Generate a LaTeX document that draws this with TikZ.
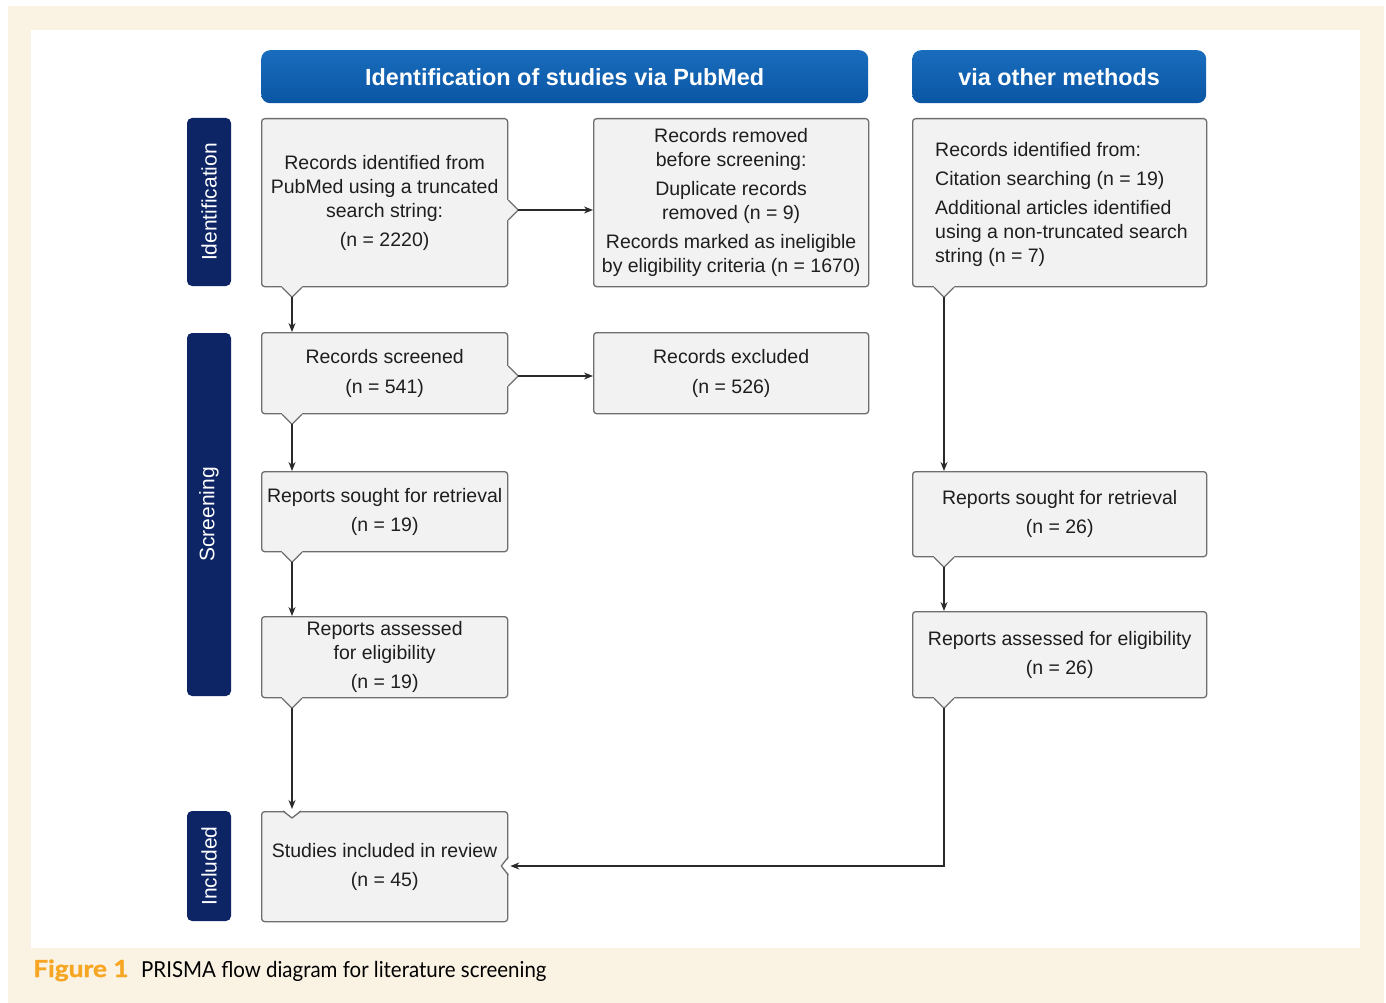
\documentclass[tikz,border=0pt]{standalone}
\usepackage{fontspec}
\setmainfont{Liberation Sans}
\newfontfamily\capfont{Lato}
\newfontfamily\capboldfont[FakeBold=1.2]{Lato}
\usetikzlibrary{calc,arrows.meta}

\definecolor{cream}{HTML}{FAF3E3}
\definecolor{hdrtop}{HTML}{1A6CBD}
\definecolor{hdrbot}{HTML}{0A56A4}
\definecolor{navy}{HTML}{0D2465}
\definecolor{boxfill}{HTML}{F2F2F3}
\definecolor{boxline}{HTML}{6E6E6E}
\definecolor{arrowcol}{HTML}{2A2A2A}
\definecolor{txt}{HTML}{1E1E1E}
\definecolor{figorange}{HTML}{F6A623}

\newcommand\bxfont{\fontsize{19.5}{24}\selectfont}
\newcommand\hdfont{\fontsize{23.4}{26}\selectfont\bfseries}
\newcommand\sdfont{\fontsize{21}{24}\selectfont}

% outward notch on a bottom edge (#1 = point on the edge)
\newcommand\notchdown[1]{%
  \fill[boxfill] ($(#1)+(-10,-1.6)$) -- ($(#1)+(10,-1.6)$) -- ($(#1)+(10,0)$)
     -- ($(#1)+(0,10)$) -- ($(#1)+(-10,0)$) -- cycle;
  \draw[notchline] ($(#1)+(-10,0)$) -- ($(#1)+(0,10)$) -- ($(#1)+(10,0)$);}
% outward notch on a right edge
\newcommand\notchright[1]{%
  \fill[boxfill] ($(#1)+(-1.6,-10)$) -- ($(#1)+(-1.6,10)$) -- ($(#1)+(0,10)$)
     -- ($(#1)+(10,0)$) -- ($(#1)+(0,-10)$) -- cycle;
  \draw[notchline] ($(#1)+(0,-10)$) -- ($(#1)+(10,0)$) -- ($(#1)+(0,10)$);}
% inward notch on a top edge
\newcommand\dentdown[1]{%
  \fill[white] ($(#1)+(-9,-1.6)$) -- ($(#1)+(9,-1.6)$) -- ($(#1)+(0,7)$) -- cycle;
  \draw[notchline] ($(#1)+(-9,0)$) -- ($(#1)+(0,7)$) -- ($(#1)+(9,0)$);}
% inward notch on a right edge
\newcommand\dentleft[1]{%
  \fill[white] ($(#1)+(1.6,-9)$) -- ($(#1)+(1.6,9)$) -- ($(#1)+(-7,0)$) -- cycle;
  \draw[notchline] ($(#1)+(0,-9)$) -- ($(#1)+(-7,0)$) -- ($(#1)+(0,9)$);}

\begin{document}
\begin{tikzpicture}[x=1pt,y=-1pt,
  box/.style={draw=boxline, line width=1.3pt, fill=boxfill, rounded corners=3pt,
    anchor=north west, inner sep=0pt, align=center, font=\bxfont, text=txt},
  header/.style={rounded corners=9pt, top color=hdrtop, bottom color=hdrbot,
    draw=none, anchor=north west, inner sep=0pt, font=\hdfont, text=white},
  side/.style={fill=navy, rounded corners=5pt, inner sep=0pt, rotate=90,
    minimum height=44pt, font=\sdfont, text=white},
  notchline/.style={draw=boxline, line width=1.3pt, line join=round},
  arr/.style={draw=arrowcol, line width=1.4pt,
    -{Stealth[length=9pt,width=7pt]}}]

\useasboundingbox (0,0) rectangle (1386,1003);
\fill[white] (0,0) rectangle (1386,1003);
\fill[cream] (8,6) rectangle (1384,1003);
\fill[white] (31,30) rectangle (1360,948);

% column headers
\node[header, minimum width=607pt, minimum height=53pt] (h1) at (261,50)
  {Identification of studies via PubMed};
\node[header, minimum width=294pt, minimum height=53pt] (h2) at (912,50)
  {via other methods};

% phase labels
\node[side, minimum width=168pt] (sid) at (209,202) {Identification};
\node[side, minimum width=363pt] (ssc) at (209,514.5) {Screening};
\node[side, minimum width=110pt] (sin) at (209,866) {Included};

% PubMed column
\node[box, minimum width=246pt, minimum height=168pt] (A) at (261,118)
  {Records identified from\\PubMed using a truncated\\search string:\\[5pt](n = 2220)};
\node[box, minimum width=275pt, minimum height=168pt] (B) at (593,118)
  {Records removed\\before screening:\\[5pt]Duplicate records\\removed (n = 9)\\[5pt]%
   Records marked as ineligible\\by eligibility criteria (n = 1670)};
\node[box, minimum width=246pt, minimum height=81pt] (D) at (261,332)
  {Records screened\\[6pt](n = 541)};
\node[box, minimum width=275pt, minimum height=81pt] (E) at (593,332)
  {Records excluded\\[6pt](n = 526)};
\node[box, minimum width=246pt, minimum height=80pt] (F) at (261,471)
  {Reports sought for retrieval\\[5pt](n = 19)};
\node[box, minimum width=246pt, minimum height=81pt] (G) at (261,616)
  {Reports assessed\\for eligibility\\[5pt](n = 19)};
\node[box, minimum width=246pt, minimum height=110pt] (H) at (261,811)
  {Studies included in review\\[5pt](n = 45)};

% other methods column
\node[box, minimum width=294pt, minimum height=168pt] (C) at (912,118) {};
\node[anchor=north west, align=left, font=\bxfont, text=txt, inner sep=0pt] (Ct) at (935,142)
  {Records identified from:\\[5pt]Citation searching (n = 19)\\[5pt]%
   Additional articles identified\\using a non-truncated search\\string (n = 7)};
\node[box, minimum width=294pt, minimum height=85pt] (I) at (912,471)
  {Reports sought for retrieval\\[5pt](n = 26)};
\node[box, minimum width=294pt, minimum height=86pt] (J) at (912,611)
  {Reports assessed for eligibility\\[5pt](n = 26)};

% notches where connectors leave or enter
\coordinate (Ab) at ($(A.south west)+(31,0)$);
\coordinate (Ar) at ($(A.north east)+(0,92)$);
\coordinate (Db) at ($(D.south west)+(31,0)$);
\coordinate (Dr) at ($(D.north east)+(0,44)$);
\coordinate (Fb) at ($(F.south west)+(31,0)$);
\coordinate (Gb) at ($(G.south west)+(31,0)$);
\coordinate (Ht) at ($(H.north west)+(31,0)$);
\coordinate (Hr) at ($(H.north east)+(0,55)$);
\coordinate (Cb) at ($(C.south west)+(32,0)$);
\coordinate (Ib) at ($(I.south west)+(32,0)$);
\coordinate (Jb) at ($(J.south west)+(32,0)$);

\notchdown{Ab}\notchright{Ar}\notchdown{Db}\notchright{Dr}
\notchdown{Fb}\notchdown{Gb}\notchdown{Cb}\notchdown{Ib}\notchdown{Jb}
\dentdown{Ht}\dentleft{Hr}

\coordinate (Abt) at ($(Ab)+(0,10)$);
\coordinate (Art) at ($(Ar)+(10,0)$);
\coordinate (Dbt) at ($(Db)+(0,10)$);
\coordinate (Drt) at ($(Dr)+(10,0)$);
\coordinate (Fbt) at ($(Fb)+(0,10)$);
\coordinate (Gbt) at ($(Gb)+(0,10)$);
\coordinate (Cbt) at ($(Cb)+(0,10)$);
\coordinate (Ibt) at ($(Ib)+(0,10)$);
\coordinate (Jbt) at ($(Jb)+(0,10)$);
\coordinate (Hin) at ($(Ht)+(0,-2)$);
\coordinate (Hrin) at ($(Hr)+(2,0)$);

% connectors
\draw[arr] (Abt) -- (Abt |- D.north);
\draw[arr] (Art) -- (Art -| B.west);
\draw[arr] (Dbt) -- (Dbt |- F.north);
\draw[arr] (Drt) -- (Drt -| E.west);
\draw[arr] (Fbt) -- (Fbt |- G.north);
\draw[arr] (Gbt) -- (Hin);
\draw[arr] (Cbt) -- (Cbt |- I.north);
\draw[arr] (Ibt) -- (Ibt |- J.north);
\draw[arr] (Jbt) |- (Hrin);

% caption
\node[anchor=base west, inner sep=0pt] (capnum) at (33,977)
  {\scalebox{1.12}[1]{\capboldfont\bfseries\fontsize{23.5}{26}\selectfont\textcolor{figorange}{Figure 1}}};
\node[anchor=base west, inner sep=0pt] (captxt) at (141,977)
  {\scalebox{0.93}[1]{\capfont\fontsize{22}{26}\selectfont PRISMA flow diagram for literature screening}};
\end{tikzpicture}
\end{document}
